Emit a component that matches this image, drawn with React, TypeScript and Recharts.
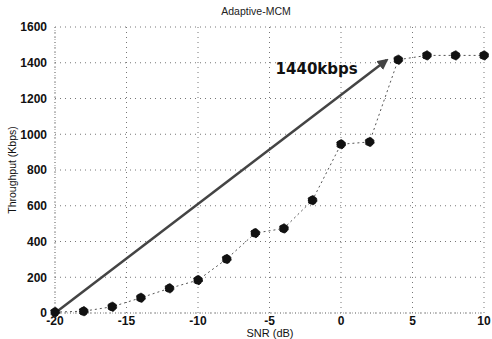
import React from 'react';
import { LineChart, Line, XAxis, YAxis, CartesianGrid, ReferenceLine, ReferenceDot } from 'recharts';

const snr = [-20, -18, -16, -14, -12, -10, -8, -6, -4, -2, 0, 2, 4, 6, 8, 10];
const throughput = [5, 10, 35, 85, 138, 184, 302, 447, 473, 631, 944, 957, 1417, 1441, 1441, 1441];
const xTicks = [-20, -15, -10, -5, 0, 5, 10];
const yTicks = [0, 200, 400, 600, 800, 1000, 1200, 1400, 1600];
const arrowFrom = { x: -20, y: 0 };
const arrowTo = { x: 3.2, y: 1415 };
const annotation = '1440kbps';

const data = snr.map((s, i) => ({ snr: s, kbps: throughput[i] }));

const font = '"Liberation Sans", Arial, sans-serif';

const App: React.FC = () => {
  return (
    <div style={{ position: 'absolute', left: 0, top: 0, width: 492, height: 339, background: '#fff', fontFamily: font }}>
      <div style={{ position: 'absolute', top: 5, left: 206, width: 100, textAlign: 'center', fontSize: 10.5, color: '#222' }}>
        Adaptive-MCM
      </div>
      <div style={{ position: 'absolute', top: 328, left: 220, width: 100, textAlign: 'center', fontSize: 11, lineHeight: '11px', color: '#111' }}>
        SNR (dB)
      </div>
      <div
        style={{
          position: 'absolute', left: 12, top: 170, width: 140, textAlign: 'center', fontSize: 10.5, color: '#111',
          transform: 'translate(-50%, -50%) rotate(-90deg)', whiteSpace: 'nowrap',
        }}
      >
        Throughput (Kbps)
      </div>
      <LineChart width={492} height={339} data={data} margin={{ top: 27, right: 8, bottom: 6, left: 12 }} style={{ position: 'absolute', left: 0, top: 0 }}>
        <defs>
          <marker id="arrowHead" viewBox="0 0 10 10" refX="8" refY="5" markerWidth="4.5" markerHeight="4.5" orient="auto">
            <path d="M0,0 L10,5 L0,10 z" fill="#444" />
          </marker>
        </defs>
        <CartesianGrid strokeDasharray="1 4" stroke="#777" />
        <XAxis
          dataKey="snr"
          type="number"
          domain={[-20, 10]}
          ticks={xTicks}
          height={20}
          tickLine={false}
          axisLine={{ stroke: '#999', strokeDasharray: '1 2' }}
          tick={{ fontSize: 12, fontWeight: 'bold', fill: '#111', fontFamily: font }}
          tickMargin={-3}
        />
        <YAxis
          type="number"
          domain={[0, 1600]}
          ticks={yTicks}
          width={43}
          tickLine={false}
          axisLine={{ stroke: '#999', strokeDasharray: '1 2' }}
          tick={{ fontSize: 12, fontWeight: 'bold', fill: '#111', fontFamily: font }}
          tickMargin={2}
        />
        <ReferenceLine
          segment={[arrowFrom, arrowTo]}
          stroke="#444"
          strokeWidth={2.5}
          markerEnd="url(#arrowHead)"
        />
        <ReferenceDot
          x={-1.7}
          y={1369}
          r={0}
          label={{ value: annotation, position: 'center', fontSize: 15, fontWeight: 'bold', fill: '#111', fontFamily: '"DejaVu Sans", sans-serif' }}
        />
        <Line
          dataKey="kbps"
          stroke="#555"
          strokeWidth={1}
          strokeDasharray="2 3"
          dot={{ r: 4.5, fill: '#111', stroke: '#111' }}
          isAnimationActive={false}
        />
      </LineChart>
    </div>
  );
};

export default App;
